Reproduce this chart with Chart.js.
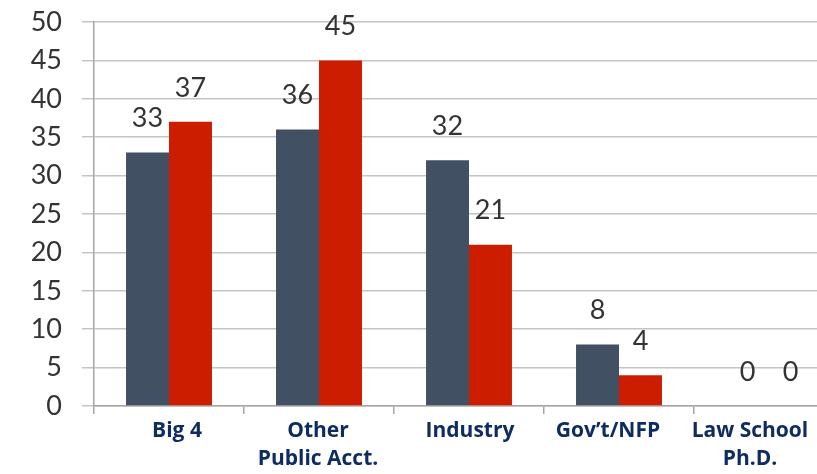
<!DOCTYPE html>
<html>
<head>
<meta charset="utf-8">
<script src="https://cdn.jsdelivr.net/npm/chart.js@4"></script>
<style>
  html, body { margin: 0; padding: 0; background: #fff; overflow: hidden; }
  #wrap { width: 850px; height: 474px; position: relative; }
</style>
</head>
<body>
<div id="wrap"><canvas id="chart"></canvas></div>
<script>
// ==============================
// DATA
// ==============================
const categories = [
  "Big 4",
  ["Other", "Public Acct."],
  "Industry",
  "Gov\u2019t/NFP",
  ["Law School", "Ph.D."]
];
const seriesDark = [33, 36, 32, 8, 0];
const seriesRed = [37, 45, 21, 4, 0];
const yTicks = [0, 5, 10, 15, 20, 25, 30, 35, 40, 45, 50];

// category labels in the original sit a bit off-centre (px)
const labelShift = [8, -1, 1, -11, -19];

// ==============================
// LABELS ABOVE BARS
// ==============================
const valueLabels = {
  id: "valueLabels",
  afterDatasetsDraw(chart) {
    const ctx = chart.ctx;
    ctx.save();
    ctx.font = "27px Lato";
    ctx.fillStyle = "#333333";
    ctx.textAlign = "center";
    ctx.textBaseline = "middle";
    chart.data.datasets.forEach((ds, i) => {
      chart.getDatasetMeta(i).data.forEach((bar, j) => {
        ctx.fillText(String(ds.data[j]), bar.x, bar.y - 34);
      });
    });
    ctx.restore();
  }
};

// ==============================
// CATEGORY LABELS
// ==============================
const categoryLabels = {
  id: "categoryLabels",
  afterDraw(chart) {
    const ctx = chart.ctx;
    const xs = chart.scales.x;
    ctx.save();
    ctx.font = "bold 21px 'Open Sans'";
    ctx.fillStyle = "#0e2c62";
    ctx.textAlign = "center";
    ctx.textBaseline = "middle";
    chart.data.labels.forEach((lab, i) => {
      const lines = Array.isArray(lab) ? lab : [lab];
      const x = xs.getPixelForValue(i) + labelShift[i];
      lines.forEach((line, k) => {
        ctx.fillText(line, x, xs.top + 25 + k * 28);
      });
    });
    ctx.restore();
  }
};

// ==============================
// CHART
// ==============================
new Chart(document.getElementById("chart"), {
  type: "bar",
  data: {
    labels: categories,
    datasets: [
      { data: seriesDark, backgroundColor: "#425063" },
      { data: seriesRed, backgroundColor: "#cc1d00" }
    ]
  },
  options: {
    responsive: true,
    maintainAspectRatio: false,
    animation: false,
    layout: { padding: { top: 22, right: 6, left: 0, bottom: 0 } },
    plugins: { legend: { display: false }, tooltip: { enabled: false } },
    datasets: { bar: { categoryPercentage: 0.573, barPercentage: 1.0 } },
    scales: {
      x: {
        grid: {
          display: true,
          drawOnChartArea: false,
          offset: true,
          color: "#a6a6a6",
          tickLength: 8,
          lineWidth: 1.5
        },
        border: { color: "#a6a6a6", width: 1.5 },
        ticks: { display: false },
        afterFit: s => { s.height = 68; s.paddingLeft = 0; s.paddingRight = 0; }
      },
      y: {
        min: 0,
        max: 50,
        afterBuildTicks: s => { s.ticks = yTicks.map(v => ({ value: v })); },
        grid: { color: "#c4c4c4", tickLength: 12, lineWidth: 1.5 },
        border: { color: "#a6a6a6", width: 1.5 },
        ticks: {
          color: "#333333",
          font: { family: "Lato", size: 27 },
          padding: 20
        },
        afterFit: s => { s.width = 94; s.paddingTop = 0; s.paddingBottom = 0; }
      }
    }
  },
  plugins: [valueLabels, categoryLabels]
});
</script>
</body>
</html>
